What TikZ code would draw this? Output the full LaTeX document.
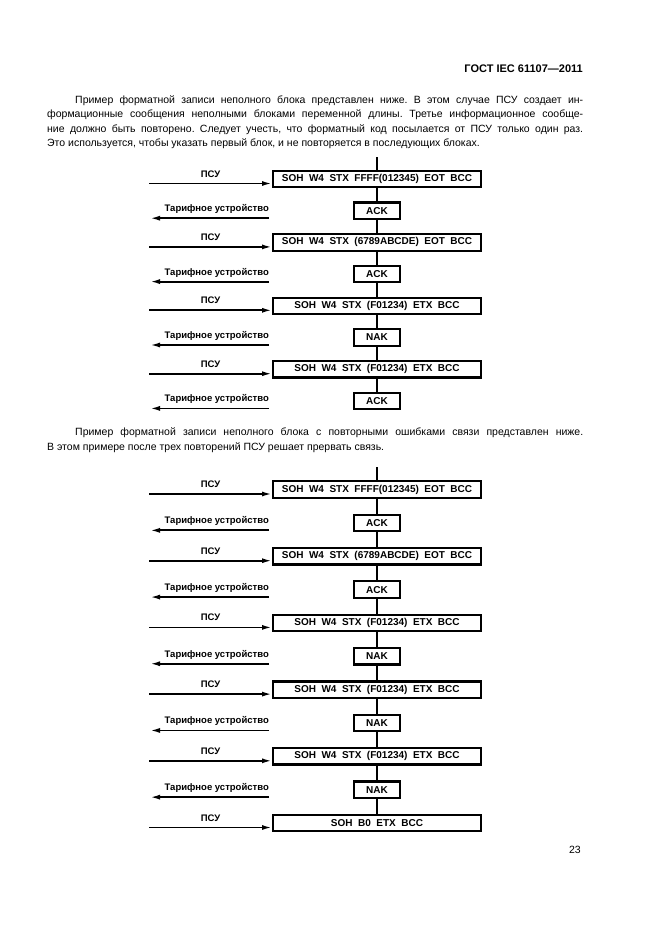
\documentclass[tikz,border=0pt]{standalone}
\usepackage{fontspec}
\setmainfont{Liberation Sans}
\usetikzlibrary{
  arrows.meta,
  positioning,
  calc
}
\newcommand{\msgfont}{\fontsize{10}{11}\selectfont\bfseries\spaceskip 5.5pt\relax}
\tikzset{
bodytext/.style={
  anchor=base west,
  inner sep=0pt,
  font=\fontsize{10.5}{12}\selectfont\frenchspacing
},
msgblock/.style={
  draw,
  line width=2.2pt,
  minimum height=16.4pt,
  minimum width=207.8pt,
  inner sep=0pt,
  font=\msgfont
},
ackblock/.style={
  msgblock,
  minimum width=45.8pt
},
arrowlabel/.style={
  anchor=base,
  inner sep=0pt,
  font=\fontsize{9.5}{10}\selectfont\bfseries
},
flowline/.style={
  line width=2pt
},
arrow/.style={
  -{Latex[length=10pt,width=5pt]},
  line width=1.8pt
}
}

\begin{document}
\begin{tikzpicture}[x=1pt, y=1pt, node distance=13.1pt]
  \useasboundingbox (0,0) rectangle (661,-935);

  \node[anchor=base east, inner sep=0pt, font=\fontsize{11}{12}\selectfont\bfseries] (head) at (583,-72) {ГОСТ IEC 61107—2011};

  \node[bodytext] (t1) at (75,-103) {\makebox[508pt][s]{Пример форматной записи неполного блока представлен ниже. В этом случае ПСУ создает ин-}};
  \node[bodytext] (t2) at (47,-117.5) {\makebox[536pt][s]{формационные сообщения неполными блоками переменной длины. Третье информационное сообще-}};
  \node[bodytext] (t3) at (47,-132) {\makebox[536pt][s]{ние должно быть повторено. Следует учесть, что форматный код посылается от ПСУ только один раз.}};
  \node[bodytext] (t4) at (47,-146.5) {Это используется, чтобы указать первый блок, и не повторяется в последующих блоках.};

  \coordinate (top1) at (377,-157);
  \node[msgblock] (m1) at (377,-179) {SOH W4 STX FFFF(012345) EOT BCC};
  \node[ackblock, below=of m1] (a1) {ACK};
  \node[msgblock, below=of a1] (m2) {SOH W4 STX (6789ABCDE) EOT BCC};
  \node[ackblock, below=of m2] (a2) {ACK};
  \node[msgblock, below=of a2] (m3) {SOH W4 STX (F01234) ETX BCC};
  \node[ackblock, below=of m3] (a3) {NAK};
  \node[msgblock, below=of a3] (m4) {SOH W4 STX (F01234) ETX BCC};
  \node[ackblock, below=of m4] (a4) {ACK};

  \draw[flowline] (top1) -- (m1) -- (a1) -- (m2) -- (a2) -- (m3) -- (a3) -- (m4) -- (a4);

  \node[bodytext] (s1) at (75,-435.5) {\makebox[508pt][s]{Пример форматной записи неполного блока с повторными ошибками связи представлен ниже.}};
  \node[bodytext] (s2) at (47,-450.5) {В этом примере после трех повторений ПСУ решает прервать связь.};

  \coordinate (top2) at (377,-467);
  \node[msgblock] (n1) at (377,-489.5) {SOH W4 STX FFFF(012345) EOT BCC};
  \node[ackblock, below=14.75pt of n1] (c1) {ACK};
  \node[msgblock, below=14.75pt of c1] (n2) {SOH W4 STX (6789ABCDE) EOT BCC};
  \node[ackblock, below=14.75pt of n2] (c2) {ACK};
  \node[msgblock, below=14.75pt of c2] (n3) {SOH W4 STX (F01234) ETX BCC};
  \node[ackblock, below=14.75pt of n3] (c3) {NAK};
  \node[msgblock, below=14.75pt of c3] (n4) {SOH W4 STX (F01234) ETX BCC};
  \node[ackblock, below=14.75pt of n4] (c4) {NAK};
  \node[msgblock, below=14.75pt of c4] (n5) {SOH W4 STX (F01234) ETX BCC};
  \node[ackblock, below=14.75pt of n5] (c5) {NAK};
  \node[msgblock, below=14.75pt of c5] (n6) {SOH B0 ETX BCC};

  \draw[flowline] (top2) -- (n1) -- (c1) -- (n2) -- (c2) -- (n3) -- (c3) -- (n4) -- (c4) -- (n5) -- (c5) -- (n6);

  \foreach \b in {m1,m2,m3,m4,n1,n2,n3,n4,n5,n6} {
    \coordinate[left=123pt of \b.west, yshift=-4.5pt] (u\b);
    \draw[arrow] (u\b) -- (u\b -| \b.west);
    \node[arrowlabel] at ($(u\b)!0.5!(u\b -| \b.west)+(0,6.5)$) {ПСУ};
  }
  \foreach \b in {a1,a2,a3,a4,c1,c2,c3,c4,c5} {
    \coordinate[left=84pt of \b.west, yshift=-7.5pt] (v\b);
    \coordinate[left=119pt of v\b] (w\b);
    \draw[arrow] (v\b) -- (w\b);
    \node[arrowlabel, anchor=base east] at ([yshift=6.5pt]v\b) {Тарифное устройство};
  }

  \node[anchor=base east, inner sep=0pt, font=\fontsize{10.5}{12}\selectfont] (page) at (581,-853) {23};
\end{tikzpicture}
\end{document}
